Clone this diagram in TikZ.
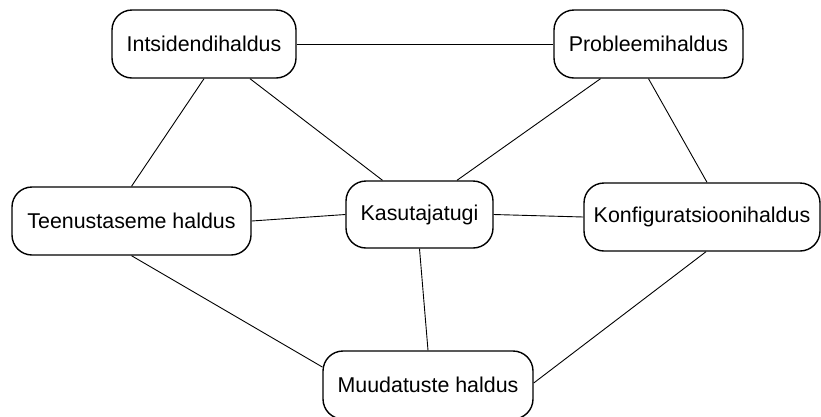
\documentclass[tikz,border=0pt]{standalone}
\usepackage{fontspec}
\setmainfont{Liberation Sans}
\begin{document}
\begin{tikzpicture}[x=1pt,y=-1pt,
  box/.style={draw=black,line width=1.4pt,rounded corners=20pt,fill=white,
    inner sep=0pt,align=center,font=\fontsize{21.4}{25}\selectfont},
  link/.style={draw=black,line width=0.9pt}]
\useasboundingbox[fill=white] (0,0) rectangle (821,416);
\node[box,minimum width=184pt,minimum height=68pt] (I) at (204,44) {Intsidendihaldus};
\node[box,minimum width=189pt,minimum height=68pt] (P) at (648.5,44) {Probleemihaldus};
\node[box,minimum width=239pt,minimum height=68pt] (T) at (131.5,221) {Teenustaseme haldus};
\node[box,minimum width=147pt,minimum height=67pt] (K) at (419.5,214.5) {Kasutajatugi};
\node[box,minimum width=236pt,minimum height=68pt] (Ko) at (702,217) {Konfiguratsioonihaldus};
\node[box,minimum width=210pt,minimum height=68pt] (M) at (428,385) {Muudatuste haldus};
\draw[link] (I.east) -- (P.west);
\draw[link] (I.south) -- (T.north);
\draw[link] ([xshift=46pt]I.south) -- ([xshift=-37pt]K.north);
\draw[link] ([xshift=-48pt]P.south) -- ([xshift=37.5pt]K.north);
\draw[link] (P.south) -- ([xshift=5pt]Ko.north);
\draw[link] (T.east) -- (K.west);
\draw[link] (K.east) -- (Ko.west);
\draw[link] (T.south) -- ([yshift=18pt]M.west);
\draw[link] (K.south) -- (M.north);
\draw[link] ([xshift=4pt]Ko.south) -- ([yshift=2pt]M.east);
\end{tikzpicture}
\end{document}
